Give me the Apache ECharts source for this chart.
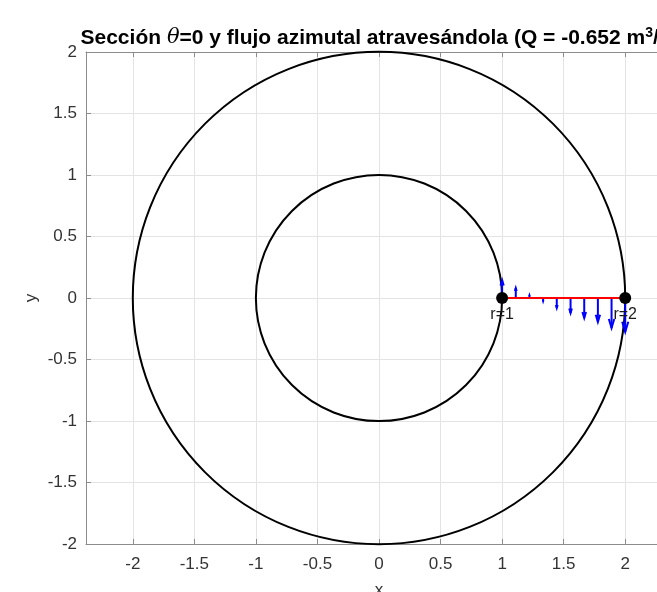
<!DOCTYPE html>
<html><head><meta charset="utf-8">
<script src="https://cdn.jsdelivr.net/npm/echarts@6/dist/echarts.min.js"></script>
<style>html,body{margin:0;padding:0;background:#fff;overflow:hidden}#c{width:657px;height:592px}</style>
</head><body><div id="c"></div>
<script>
const xTicks = [-2, -1.5, -1, -0.5, 0, 0.5, 1, 1.5, 2];
const yTicks = [-2, -1.5, -1, -0.5, 0, 0.5, 1, 1.5, 2];
const circleRadii = [1, 2];
const sectionR = [1, 2];
const sectionLabels = ['r=1', 'r=2'];
const quiverR = [1, 1.111, 1.222, 1.333, 1.444, 1.556, 1.667, 1.778, 1.889, 2];
const quiverV = [0.146, 0.081, 0.02, -0.025, -0.081, -0.122, -0.163, -0.195, -0.244, -0.276];

const FONT = '"Liberation Sans", Arial, Helvetica, sans-serif';
const axisColor = '#8c8c8c';
const labelColor = '#333';
const gridColor = '#e3e3e3';

const chart = echarts.init(document.getElementById('c'), null, {renderer: 'canvas'});

function axisCommon(ticks, margin) {
  return {
    axisLine: {show: true, onZero: false, lineStyle: {color: axisColor, width: 1}},
    axisTick: {show: true, inside: true, length: 5, customValues: ticks, lineStyle: {color: axisColor}},
    splitLine: {show: true, lineStyle: {color: gridColor, width: 1}},
    axisLabel: {customValues: ticks, color: labelColor, fontSize: 17, fontFamily: FONT, margin: margin}
  };
}

const option = {
  backgroundColor: '#fff',
  animation: false,
  grid: {left: 86, top: 52, width: 586, height: 492, containLabel: false, outerBoundsMode: 'none', show: false},
  graphic: [{
    type: 'text', x: 379, y: 38, z: 100,
    style: {
      text: '{b|Sección }{t|θ}{b|=0 y flujo azimutal atravesándola (Q = -0.652 m}{s|3}{b|/s)}',
      align: 'center', verticalAlign: 'middle',
      rich: {
        b: {fontSize: 21, fontWeight: 'bold', fontFamily: FONT, fill: '#000', lineHeight: 24},
        t: {fontSize: 21, fontStyle: 'italic', fontFamily: '"DejaVu Serif", serif', fill: '#000', lineHeight: 24},
        s: {fontSize: 14, fontWeight: 'bold', fontFamily: FONT, fill: '#000', lineHeight: 24, padding: [0, 0, 10, 0]}
      }
    }
  }],
  xAxis: [
    Object.assign({
      type: 'value', min: -2.38, max: 2.38, position: 'bottom',
      name: 'x', nameLocation: 'middle', nameGap: 38, nameMoveOverlap: false,
      nameTextStyle: {color: labelColor, fontSize: 17, fontFamily: FONT}
    }, axisCommon(xTicks, 12)),
    {
      type: 'value', min: -2.38, max: 2.38, position: 'top',
      axisLine: {show: true, onZero: false, lineStyle: {color: axisColor}},
      axisTick: {show: true, inside: true, length: 5, customValues: xTicks, lineStyle: {color: axisColor}},
      axisLabel: {show: false}, splitLine: {show: false}
    }
  ],
  yAxis: [
    Object.assign({
      type: 'value', min: -2, max: 2, interval: 0.5, position: 'left',
      name: 'y', nameLocation: 'middle', nameGap: 46, nameMoveOverlap: false,
      nameTextStyle: {color: labelColor, fontSize: 17, fontFamily: FONT}
    }, axisCommon(yTicks, 9)),
    {
      type: 'value', min: -2, max: 2, interval: 0.5, position: 'right',
      axisLine: {show: true, onZero: false, lineStyle: {color: axisColor}},
      axisTick: {show: true, inside: true, length: 5, lineStyle: {color: axisColor}},
      axisLabel: {show: false}, splitLine: {show: false}
    }
  ],
  series: [
    {
      type: 'custom', z: 2, clip: false,
      data: circleRadii.map(r => [0, 0, r]),
      renderItem: function (params, api) {
        const c = api.coord([api.value(0), api.value(1)]);
        const rp = api.size([api.value(2), 0])[0];
        return {type: 'circle', shape: {cx: c[0], cy: c[1], r: rp},
          style: {fill: 'none', stroke: '#000', lineWidth: 2}};
      }
    },
    {
      type: 'custom', z: 3, clip: false,
      data: quiverR.map((r, i) => [r, quiverV[i]]),
      renderItem: function (params, api) {
        const r = api.value(0), v = api.value(1);
        const p0 = api.coord([r, 0]);
        const p1 = api.coord([r, v]);
        const dx = p1[0] - p0[0], dy = p1[1] - p0[1];
        const hl = 0.3, hw = 0.09;
        const bx = p1[0] - hl * dx, by = p1[1] - hl * dy;
        const lpt = [bx - hw * dy, by + hw * dx];
        const rpt = [bx + hw * dy, by - hw * dx];
        const st = {stroke: '#0000ff', lineWidth: 2, fill: 'none'};
        return {type: 'group', children: [
          {type: 'line', shape: {x1: p0[0], y1: p0[1], x2: p1[0], y2: p1[1]}, style: st},
          {type: 'polyline', shape: {points: [lpt, p1, rpt]}, style: st}
        ]};
      }
    },
    {
      type: 'line', z: 4, symbol: 'none',
      data: sectionR.map(r => [r, 0]),
      lineStyle: {color: '#ff0000', width: 2}
    },
    {
      type: 'scatter', z: 5, symbol: 'circle', symbolSize: 12,
      itemStyle: {color: '#000', opacity: 1},
      data: sectionR.map((r, i) => ({value: [r, 0], name: sectionLabels[i]})),
      label: {show: true, position: 'bottom', distance: 3, formatter: p => p.name,
        color: '#1a1a1a', fontSize: 16, fontFamily: FONT}
    }
  ]
};
chart.setOption(option);
</script>
</body></html>
